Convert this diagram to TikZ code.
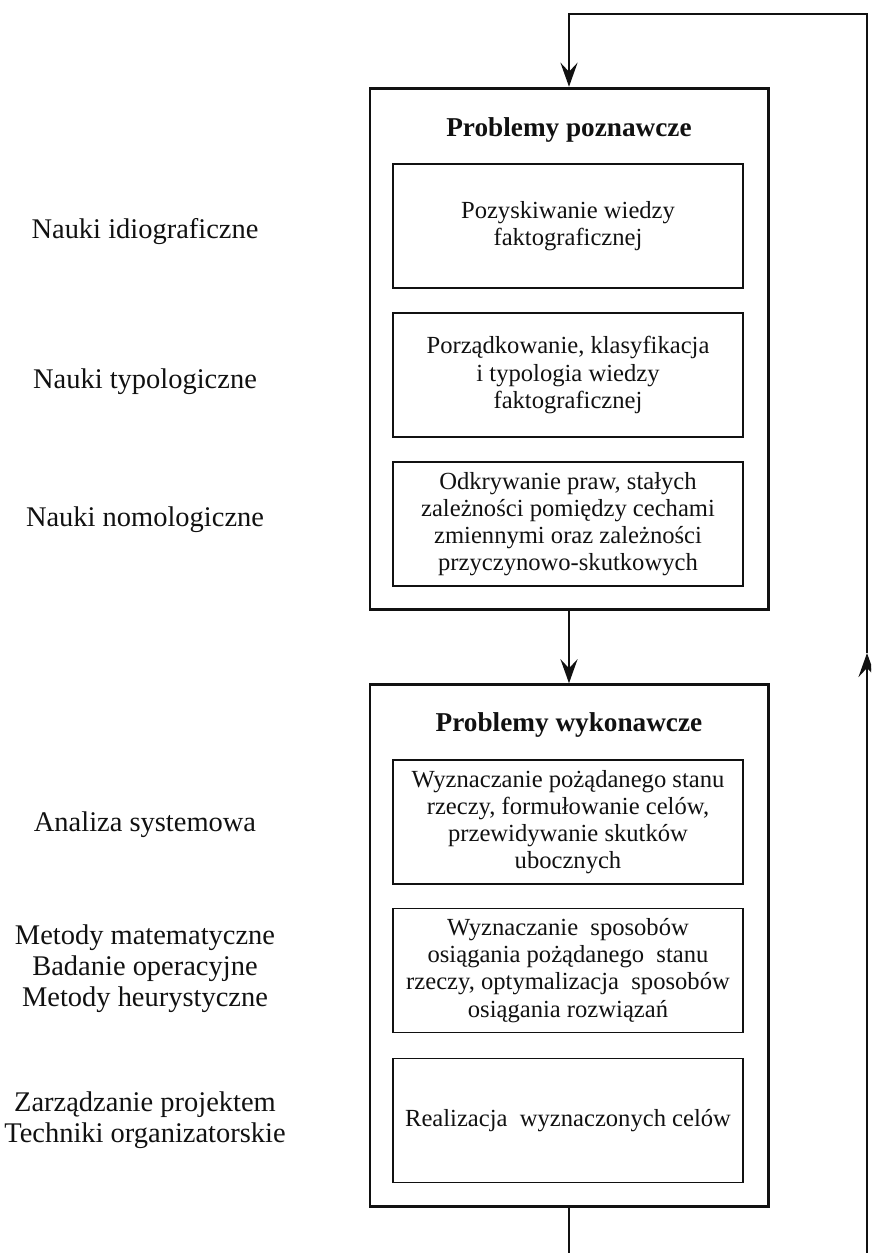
\documentclass[tikz,border=0pt]{standalone}
\usepackage{fontspec}
\setmainfont{Liberation Serif}
\usepackage{xcolor}
\usetikzlibrary{arrows.meta,positioning}
\definecolor{ink}{HTML}{111111}
\tikzset{
  ramka/.style={draw=ink,line width=1.7pt,minimum width=7.96cm,minimum height=10.43cm,inner sep=0pt},
  pole/.style={draw=ink,line width=1.1pt,minimum width=7.0cm,minimum height=2.48cm,inner sep=2pt,align=center,font=\fontsize{14}{15.4}\selectfont,text=ink},
  tytul/.style={font=\fontsize{15.5}{17}\selectfont\bfseries,text=ink},
  opis/.style={align=center,font=\fontsize{16.2}{17.6}\selectfont,text=ink},
  strz/.style={-{Stealth[length=4.8mm,width=3.4mm,inset=1.8mm]},line width=1.6pt,draw=ink},
  linia/.style={line width=1.6pt,draw=ink}
}
\begin{document}
\begin{tikzpicture}[x=0.2mm,y=-0.2mm]
  \useasboundingbox (0,0) rectangle (871,1253);
  \clip (0,0) rectangle (871,1253);
  % problemy poznawcze
  \node[ramka] (pozn) at (569,349) {};
  \node[tytul] (poznT) at (569,130) {Problemy poznawcze};
  \node[pole] (fakt) at (568,226) {Pozyskiwanie wiedzy\\faktograficznej};
  \node[pole] (typ) at (568,375) {Porządkowanie, klasyfikacja\\i typologia wiedzy\\faktograficznej};
  \node[pole] (prawa) at (568,524) {Odkrywanie praw, stałych\\zależności pomiędzy cechami\\zmiennymi oraz zależności\\przyczynowo-skutkowych};
  % problemy wykonawcze
  \node[ramka] (wyk) at (569,945.5) {};
  \node[tytul] (wykT) at (569,725) {Problemy wykonawcze};
  \node[pole] (cele) at (568,822) {Wyznaczanie pożądanego stanu\\rzeczy, formułowanie celów,\\przewidywanie skutków\\ubocznych};
  \node[pole] (sposoby) at (568,970.5) {Wyznaczanie\ \ sposobów\\osiągania pożądanego\ \ stanu\\rzeczy, optymalizacja\ \ sposobów\\osiągania rozwiązań};
  \node[pole] (real) at (568,1120.5) {Realizacja\ \ wyznaczonych celów};
  % opisy z lewej
  \node[opis] (idio) at (145,232) {Nauki idiograficzne};
  \node[opis] (typo) at (145,382) {Nauki typologiczne};
  \node[opis] (nomo) at (145,520) {Nauki nomologiczne};
  \node[opis] (anal) at (145,825) {Analiza systemowa};
  \node[opis] (metody) at (145,969) {Metody matematyczne\\Badanie operacyjne\\Metody heurystyczne};
  \node[opis] (zarz) at (145,1120) {Zarządzanie projektem\\Techniki organizatorskie};
  % petla
  \coordinate (dol) at (569,1290);
  \coordinate (prawo) at (867,1290);
  \coordinate (srodek) at (867,653);
  \coordinate (gora) at (867,14);
  \draw[strz] (pozn.south) -- (wyk.north);
  \draw[strz] (wyk.south) -- (dol) -- (prawo) -- (srodek);
  \draw[strz] (srodek) -- (gora) -- (gora -| pozn.north) -- (pozn.north);
\end{tikzpicture}
\end{document}
